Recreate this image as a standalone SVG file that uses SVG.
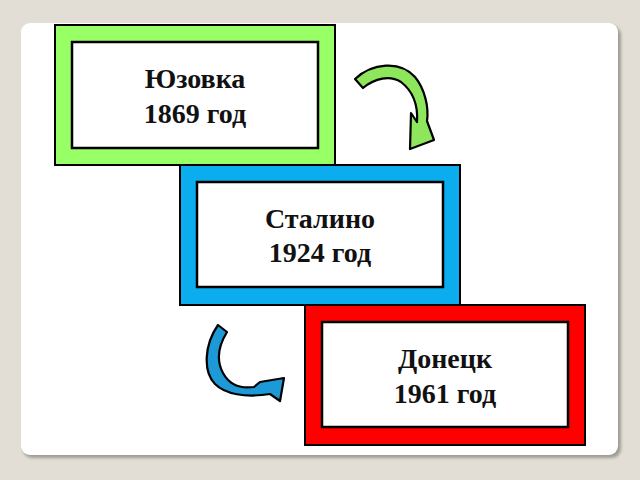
<svg xmlns="http://www.w3.org/2000/svg" width="640" height="480" viewBox="0 0 640 480">
<defs>
<style>
.outer{stroke:#000;stroke-width:2}
.inner{fill:#fff;stroke:#000;stroke-width:2.5}
.lbl{font-family:"Liberation Serif","Times New Roman",serif;font-weight:bold;font-size:28px;fill:#111;text-anchor:middle}
.arrow{stroke:#000;stroke-width:2.2;stroke-linejoin:round}
</style>
<filter id="sh" x="-5%" y="-5%" width="110%" height="110%">
<feGaussianBlur stdDeviation="1.5"/>
</filter>
</defs>
<rect x="0" y="0" width="640" height="480" fill="#E3DED5"/>
<rect x="23" y="26" width="598" height="432" rx="9" fill="#8f8b86" filter="url(#sh)" opacity="0.8"/>
<rect x="21" y="23" width="597" height="432" rx="9" fill="#fff"/>
<g id="node-yuzovka">
<rect class="outer" x="55" y="25" width="280" height="140" fill="#99FF66"/>
<rect class="inner" x="72" y="42" width="246" height="106"/>
<text class="lbl" x="195" y="88">Юзовка</text>
<text class="lbl" x="195" y="123">1869 год</text>
</g>
<g id="node-stalino">
<rect class="outer" x="180" y="165" width="280" height="140" fill="#0BADEE"/>
<rect class="inner" x="197" y="182" width="246" height="105"/>
<text class="lbl" x="320" y="228">Сталино</text>
<text class="lbl" x="320" y="262">1924 год</text>
</g>
<g id="node-donetsk">
<rect class="outer" x="305" y="305" width="280" height="140" fill="#FF0000"/>
<rect class="inner" x="322" y="322" width="246" height="105"/>
<text class="lbl" x="445" y="368">Донецк</text>
<text class="lbl" x="445" y="403">1961 год</text>
</g>
<g id="connectors">
<path class="arrow" fill="#8EE65C" d="M355,79 C372,63 400,60 415,77 C425,89 429,108 427,121 L434,140 L410,149 L411,113 L417,122 C418,107 414,92 401,82 C390,75 375,78 363,88 Z"/>
<path class="arrow" fill="#1C99D6" d="M218,325 C204,345 203,372 215,384 C225,394 245,398 270,394 L280,401 L284,378 L260,382 L254,387 C240,389 229,384 223,373 C216,360 219,345 227,332 Z"/>
</g>
</svg>
